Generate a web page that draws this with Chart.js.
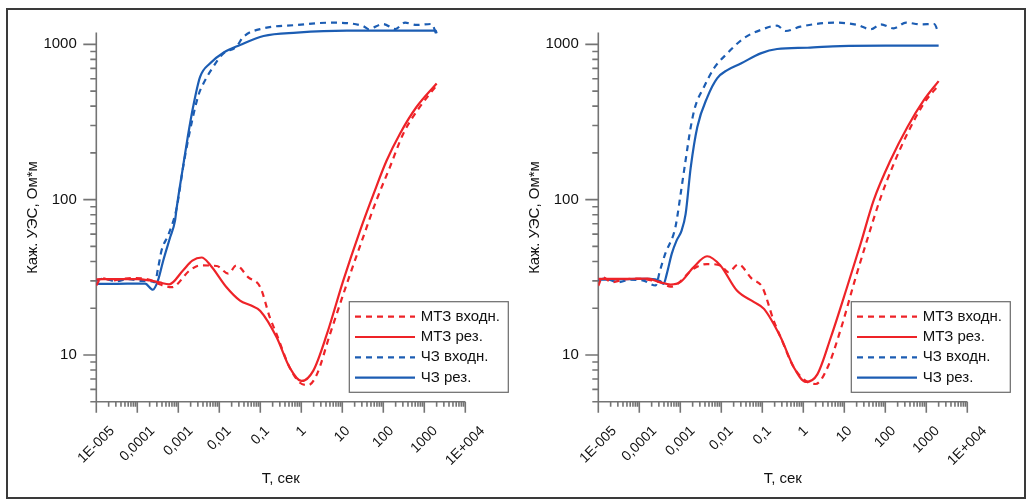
<!DOCTYPE html>
<html>
<head>
<meta charset="utf-8">
<script src="https://cdn.jsdelivr.net/npm/chart.js@4.4.1/dist/chart.umd.min.js"></script>
<style>
  body { margin: 0; background: #fff; }
  #frame { position: absolute; left: 6px; top: 8px; width: 1020px; height: 491px; box-sizing: border-box; border: 2px solid #3a3a3a; }
  canvas { position: absolute; top: 0; }
  #left { left: 0; }
  #right { left: 502px; }
</style>
</head>
<body>
<div id="frame"></div>
<canvas id="left" width="512" height="503"></canvas>
<canvas id="right" width="512" height="503"></canvas>
<script>
// ---- axis ticks / labels ----
const decadeTicks = [1e-5, 1e-4, 1e-3, 0.01, 0.1, 1, 10, 100, 1000, 1e4];
const decadeLabels = ['1E-005', '0,0001', '0,001', '0,01', '0,1', '1', '10', '100', '1000', '1E+004'];
const rhoTicks = [10, 100, 1000];
const rhoLabels = ['10', '100', '1000'];
const legendLabels = ['МТЗ входн.', 'МТЗ рез.', 'ЧЗ входн.', 'ЧЗ рез.'];
const xTitle = 'Т, сек';
const yTitle = 'Каж. УЭС, Ом*м';

// ---- left panel ----
const leftMtzInT   = [1e-5, 1.3e-5, 2.5e-5, 4e-5, 8e-5, 1.5e-4, 2.4e-4, 3.5e-4, 6.9e-4, 1.9e-3, 3.4e-3, 8.7e-3, 0.0166, 0.026, 0.051, 0.1, 0.17, 0.25, 0.52, 0.91, 1.48, 2.4, 5.0, 12.9, 32, 68, 145, 309, 776, 2000];
const leftMtzInRho = [28, 31.2, 30.2, 30.8, 31.3, 31, 30, 28.5, 27.3, 35, 37.7, 37.4, 33.4, 37.7, 31.6, 27.3, 17.5, 13.6, 8.3, 6.65, 6.4, 7.5, 13.6, 28.7, 57, 99, 162, 267, 395, 545];
const leftMtzResT   = [1e-5, 3.2e-5, 1e-4, 2e-4, 3.5e-4, 6e-4, 1.3e-3, 2.2e-3, 3.7e-3, 6e-3, 0.015, 0.032, 0.06, 0.1, 0.25, 0.52, 1.02, 1.95, 4.2, 10.5, 27, 58, 120, 257, 645, 2000];
const leftMtzResRho = [30.7, 30.8, 30.8, 30.2, 29.3, 28.5, 35, 40.5, 42.4, 38, 27.3, 22.4, 20.8, 19.2, 13, 8.3, 6.8, 7.9, 13.6, 30, 63, 109, 178, 267, 395, 560];
const leftCzInT   = [1e-5, 1.5e-5, 3e-5, 6e-5, 1.2e-4, 2.2e-4, 2.7e-4, 3.2e-4, 3.9e-4, 5.8e-4, 9.1e-4, 1.3e-3, 1.8e-3, 3.1e-3, 4.1e-3, 7.1e-3, 0.0126, 0.026, 0.039, 0.12, 0.78, 5.0, 32, 43, 100, 195, 340, 645, 1500, 2000];
const leftCzInRho = [30.2, 31, 29.8, 30.8, 30, 29.8, 29.4, 36, 47, 60, 88, 160, 255, 471, 560, 716, 875, 966, 1120, 1268, 1333, 1379, 1313, 1255, 1352, 1255, 1379, 1333, 1352, 1147];
const leftCzResT   = [1e-5, 3.2e-5, 1e-4, 1.55e-4, 2.4e-4, 3.2e-4, 4.3e-4, 6.3e-4, 8.3e-4, 9.1e-4, 1.3e-3, 1.7e-3, 2.3e-3, 3.4e-3, 5.9e-3, 0.0126, 0.032, 0.12, 0.78, 13, 300, 1900, 2000];
const leftCzResRho = [28.7, 28.7, 28.8, 28.8, 26.3, 30.2, 40.6, 57, 73, 88, 162, 253, 396, 617, 753, 883, 990, 1132, 1189, 1224, 1224, 1224, 1175];

// ---- right panel ----
const rightMtzInT   = [1e-5, 1.25e-5, 2.2e-5, 4e-5, 8e-5, 1.6e-4, 3.2e-4, 5.8e-4, 8.1e-4, 2.1e-3, 4.5e-3, 9.5e-3, 0.015, 0.026, 0.056, 0.1, 0.19, 0.28, 0.59, 1.26, 2.0, 3.9, 8.1, 17.4, 36, 78, 162, 347, 870, 2000];
const rightMtzInRho = [27.9, 31.6, 29.4, 30.5, 31, 30.5, 29.4, 27.5, 28.4, 35.9, 38.5, 37.7, 34.1, 38.3, 30.9, 27.3, 16.6, 13, 8.3, 6.7, 6.5, 8.3, 14.5, 29.2, 55, 104, 171, 267, 416, 547];
const rightMtzResT   = [1e-5, 3e-5, 1.6e-4, 3.2e-4, 5.8e-4, 1e-3, 2.1e-3, 4.5e-3, 9.5e-3, 0.024, 0.063, 0.11, 0.28, 0.59, 1.15, 2.2, 4.7, 11.7, 25, 52, 135, 347, 870, 2000];
const rightMtzResRho = [30.9, 30.9, 31, 29.4, 28.4, 29.4, 36.7, 43.2, 37.7, 26, 21.9, 19.8, 13, 8.3, 6.7, 7.5, 13, 27.4, 52, 99, 180, 294, 437, 580];
const rightCzInT   = [1e-5, 1.5e-5, 3e-5, 6e-5, 1.2e-4, 2.5e-4, 3.2e-4, 4.3e-4, 7.6e-4, 1.02e-3, 1.35e-3, 1.8e-3, 2.3e-3, 3.8e-3, 6.6e-3, 0.014, 0.035, 0.091, 0.23, 0.37, 0.85, 5.6, 21, 44, 78, 160, 320, 720, 1550, 2000];
const rightCzInRho = [30.5, 31, 29.4, 30.5, 30.2, 28, 35, 44.9, 66.5, 109, 180, 294, 396, 533, 700, 875, 1093, 1237, 1319, 1219, 1300, 1380, 1333, 1250, 1345, 1268, 1380, 1345, 1352, 1178];
const rightCzResT   = [1e-5, 3e-5, 1e-4, 1.8e-4, 3.2e-4, 3.9e-4, 4.7e-4, 6.2e-4, 8.1e-4, 1.07e-3, 1.35e-3, 1.8e-3, 2.6e-3, 4.6e-3, 7.9e-3, 0.014, 0.03, 0.091, 0.23, 1.26, 8.1, 100, 2000];
const rightCzResRho = [30.5, 30.7, 30.9, 30.9, 29.9, 28.7, 33.4, 44.9, 54.5, 63, 81, 162, 294, 459, 604, 683, 753, 875, 933, 951, 975, 980, 980];

const FONT = "'Liberation Sans', Arial, sans-serif";
const RED = '#ee2328';
const BLUE = '#1c5db3';
const AXIS = '#747474';
const TEXT = '#111';
const DASH = [6, 5];

function line(label, T, rho, color, dashed) {
  return {
    label: label,
    data: T.map((t, i) => ({ x: t, y: rho[i] })),
    borderColor: color,
    borderWidth: 2.2,
    borderDash: dashed ? DASH : [],
    pointRadius: 0,
    fill: false,
    cubicInterpolationMode: 'monotone'
  };
}

// axes, ticks, titles and the boxed legend are drawn by hand
const decor = {
  id: 'decor',
  beforeDatasetsDraw(chart) {
    const { ctx, chartArea: a, scales: { x, y } } = chart;
    ctx.save();
    ctx.strokeStyle = AXIS;
    ctx.lineWidth = 1.6;
    ctx.beginPath();
    ctx.moveTo(a.left, y.getPixelForValue(1190));
    ctx.lineTo(a.left, a.bottom);
    ctx.lineTo(a.right, a.bottom);
    decadeTicks.forEach((d, i) => {
      const px = x.getPixelForValue(d);
      ctx.moveTo(px, a.bottom);
      ctx.lineTo(px, a.bottom + 11);
      if (i < decadeTicks.length - 1) {
        for (let m = 2; m <= 9; m++) {
          const p = x.getPixelForValue(d * m);
          ctx.moveTo(p, a.bottom);
          ctx.lineTo(p, a.bottom + 5);
        }
      }
    });
    [1, 10, 100].forEach(d => {
      for (let m = 2; m <= 9; m++) {
        if (d * m < y.min) continue;
        const p = y.getPixelForValue(d * m);
        ctx.moveTo(a.left - 6, p);
        ctx.lineTo(a.left, p);
      }
    });
    rhoTicks.forEach(v => {
      const p = y.getPixelForValue(v);
      ctx.moveTo(a.left - 13, p);
      ctx.lineTo(a.left, p);
    });
    ctx.stroke();

    ctx.fillStyle = TEXT;
    ctx.font = '15px ' + FONT;
    ctx.textAlign = 'right';
    ctx.textBaseline = 'middle';
    rhoTicks.forEach((v, i) => ctx.fillText(rhoLabels[i], a.left - 19.5, y.getPixelForValue(v)));

    ctx.font = '14px ' + FONT;
    ctx.textAlign = 'center';
    decadeTicks.forEach((d, i) => {
      const w = ctx.measureText(decadeLabels[i]).width;
      const ext = (w + 10) * Math.SQRT1_2;
      ctx.save();
      ctx.translate(x.getPixelForValue(d), a.bottom + 23.5 + ext / 2);
      ctx.rotate(-Math.PI / 4);
      ctx.fillText(decadeLabels[i], 0, 0);
      ctx.restore();
    });

    ctx.font = '15px ' + FONT;
    ctx.fillText(xTitle, (a.left + a.right) / 2, 479);
    ctx.save();
    ctx.translate(32.5, 217.5);
    ctx.rotate(-Math.PI / 2);
    ctx.fillText(yTitle, 0, 0);
    ctx.restore();
    ctx.restore();
  },
  afterDraw(chart) {
    const { ctx, chartArea: a } = chart;
    const bx = a.right - 116, by = 301.7, bw = 159, bh = 90.6;
    ctx.save();
    ctx.fillStyle = '#fff';
    ctx.fillRect(bx, by, bw, bh);
    ctx.strokeStyle = '#6a6a6a';
    ctx.lineWidth = 1.2;
    ctx.strokeRect(bx, by, bw, bh);
    chart.data.datasets.forEach((ds, i) => {
      const ly = by + 15 + i * 20.3;
      ctx.strokeStyle = ds.borderColor;
      ctx.lineWidth = 2.2;
      ctx.setLineDash(ds.borderDash);
      ctx.beginPath();
      ctx.moveTo(bx + 5.7, ly);
      ctx.lineTo(bx + 65.7, ly);
      ctx.stroke();
      ctx.setLineDash([]);
      ctx.fillStyle = TEXT;
      ctx.font = '15px ' + FONT;
      ctx.textAlign = 'left';
      ctx.textBaseline = 'middle';
      ctx.fillText(legendLabels[i], bx + 71.4, ly);
    });
    ctx.restore();
  }
};

function makePanel(id, sets) {
  return new Chart(document.getElementById(id), {
    type: 'line',
    data: { datasets: sets },
    options: {
      responsive: false,
      animation: false,
      layout: { padding: { left: 0, top: 17, right: 46.7, bottom: 0 } },
      plugins: { legend: { display: false }, tooltip: { enabled: false } },
      scales: {
        x: {
          type: 'logarithmic', min: 1e-5, max: 1e4,
          grid: { display: false }, border: { display: false }, ticks: { display: false },
          afterFit(s) { s.height = 101.3; }
        },
        y: {
          type: 'logarithmic', min: 5, max: 1500,
          grid: { display: false }, border: { display: false }, ticks: { display: false },
          afterFit(s) { s.width = 96.3; }
        }
      }
    },
    plugins: [decor]
  });
}

makePanel('left', [
  line(legendLabels[0], leftMtzInT, leftMtzInRho, RED, true),
  line(legendLabels[1], leftMtzResT, leftMtzResRho, RED, false),
  line(legendLabels[2], leftCzInT, leftCzInRho, BLUE, true),
  line(legendLabels[3], leftCzResT, leftCzResRho, BLUE, false)
]);

makePanel('right', [
  line(legendLabels[0], rightMtzInT, rightMtzInRho, RED, true),
  line(legendLabels[1], rightMtzResT, rightMtzResRho, RED, false),
  line(legendLabels[2], rightCzInT, rightCzInRho, BLUE, true),
  line(legendLabels[3], rightCzResT, rightCzResRho, BLUE, false)
]);
</script>
</body>
</html>
